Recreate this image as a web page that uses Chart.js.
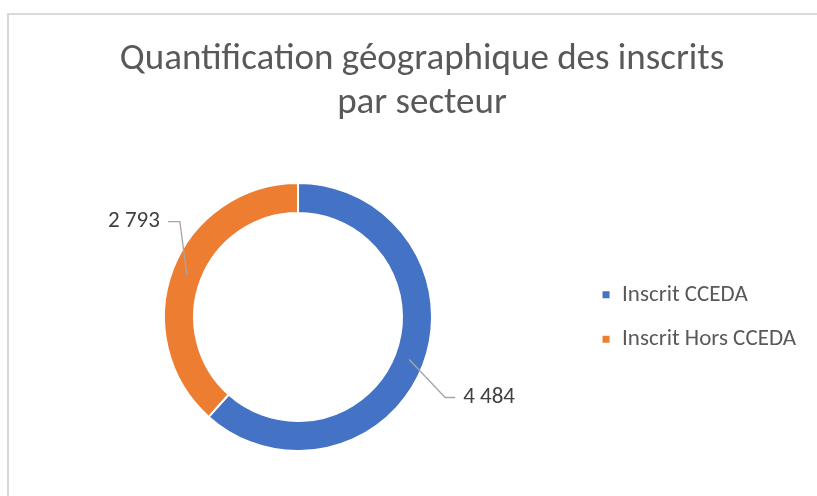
<!DOCTYPE html>
<html>
<head>
<meta charset="utf-8">
<script src="https://cdn.jsdelivr.net/npm/chart.js@4.4.0/dist/chart.umd.min.js"></script>
<style>
  html, body { margin: 0; padding: 0; background: #fff; }
  #wrap { position: relative; width: 817px; height: 496px; overflow: hidden; }
  #frame { position: absolute; left: 7px; top: 13px; width: 900px; height: 600px; border: 2px solid #d9d9d9; box-sizing: border-box; }
  canvas { position: absolute; left: 0; top: 0; }
</style>
</head>
<body>
<div id="wrap">
  <div id="frame"></div>
  <canvas id="donutChart" width="817" height="496"></canvas>
</div>
<script>
// Chart data
const categories = ['Inscrit CCEDA', 'Inscrit Hors CCEDA'];
const inscrits = [4484, 2793];
const sliceColors = ['#4472c4', '#ed7d31'];
const titleLines = ['Quantification géographique des inscrits', 'par secteur'];

const fontFamily = "Carlito, Lato, 'Open Sans', sans-serif";

function formatNumber(n) {
  return String(n).replace(/\B(?=(\d{3})+(?!\d))/g, ' ');
}

// Excel puts the plot area and legend a bit left of where Chart.js would
const plotShift = {
  id: 'plotShift',
  afterLayout(chart) {
    const dx = -11;
    chart.chartArea.left += dx;
    chart.chartArea.right += dx;
    chart.legend.left += dx;
    chart.legend.right += dx;
  }
};

// Leader lines + value labels (Excel style)
const leaderLabels = {
  id: 'leaderLabels',
  afterDatasetsDraw(chart) {
    const ctx = chart.ctx;
    const meta = chart.getDatasetMeta(0);
    // elbow offset from anchor, then horizontal tail
    const shapes = [
      { dx: 36, dy: 38, tail: 10 },
      { dx: -7, dy: -53, tail: -12 }
    ];
    meta.data.forEach((arc, i) => {
      const p = arc.getProps(['x', 'y', 'startAngle', 'endAngle', 'innerRadius', 'outerRadius'], true);
      const mid = (p.startAngle + p.endAngle) / 2;
      const r = (p.innerRadius + p.outerRadius) / 2;
      const ax = p.x + Math.cos(mid) * r;
      const ay = p.y + Math.sin(mid) * r;
      const s = shapes[i];
      const ex = ax + s.dx, ey = ay + s.dy;
      ctx.save();
      ctx.strokeStyle = '#a6a6a6';
      ctx.lineWidth = 1.3;
      ctx.beginPath();
      ctx.moveTo(ax, ay);
      ctx.lineTo(ex, ey);
      ctx.lineTo(ex + s.tail, ey);
      ctx.stroke();
      ctx.fillStyle = '#404040';
      ctx.font = '23px ' + fontFamily;
      ctx.textBaseline = 'middle';
      ctx.textAlign = s.tail > 0 ? 'left' : 'right';
      ctx.fillText(formatNumber(inscrits[i]), ex + s.tail + (s.tail > 0 ? 8 : -8), ey);
      ctx.restore();
    });
  }
};

document.addEventListener('DOMContentLoaded', () => {
  const ctx = document.getElementById('donutChart').getContext('2d');
  new Chart(ctx, {
    type: 'doughnut',
    data: {
      labels: categories,
      datasets: [{
        data: inscrits,
        backgroundColor: sliceColors,
        borderColor: '#ffffff',
        borderWidth: 2,
        radius: 134,
        cutout: '77.6%'
      }]
    },
    options: {
      responsive: false,
      animation: false,
      layout: { padding: { left: 27, right: 0, top: 38, bottom: 10 } },
      plugins: {
        title: {
          display: true,
          text: titleLines,
          color: '#595959',
          font: { family: fontFamily, size: 37, weight: 'normal', lineHeight: 1.19 },
          padding: { top: 0, bottom: 22 }
        },
        legend: {
          position: 'right',
          fullSize: false,
          labels: {
            color: '#595959',
            font: { family: fontFamily, size: 23 },
            usePointStyle: true,
            pointStyle: 'rect',
            boxWidth: 9,
            boxHeight: 9,
            padding: 21.5
          }
        },
        tooltip: { enabled: false }
      }
    },
    plugins: [plotShift, leaderLabels]
  });
});
</script>
</body>
</html>
